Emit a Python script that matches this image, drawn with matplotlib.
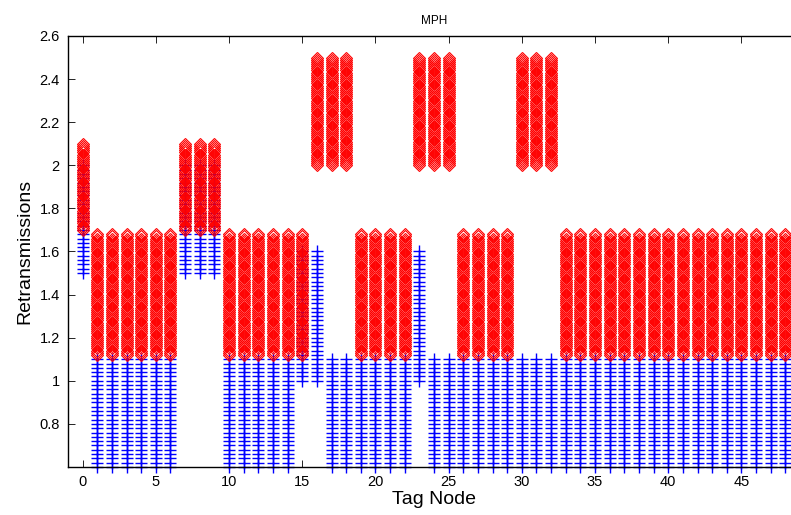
import matplotlib
matplotlib.use("Agg")
import matplotlib.pyplot as plt

plt.rcParams['font.family'] = ['Liberation Sans', 'DejaVu Sans']

# tag nodes 0..48
nodes = list(range(49))

# which band of retransmission values each node falls into
blue_band = ['high' if n in (0, 7, 8, 9) else 'mid' if n in (15, 16, 23) else 'low'
             for n in nodes]
red_band = ['mid' if n in (0, 7, 8, 9)
            else 'high' if n in (16, 17, 18, 23, 24, 25, 30, 31, 32) else 'low'
            for n in nodes]

# values (each column is a dense stack of samples)
blue_low = [0.60, 0.62, 0.64, 0.66, 0.68, 0.70, 0.72, 0.74, 0.76, 0.78, 0.80, 0.82, 0.84,
            0.86, 0.88, 0.90, 0.92, 0.94, 0.96, 0.98, 1.00, 1.02, 1.04, 1.06, 1.08, 1.10]
blue_mid = [1.00, 1.02, 1.04, 1.06, 1.08, 1.10, 1.12, 1.14, 1.16, 1.18, 1.20, 1.22, 1.24,
            1.26, 1.28, 1.30, 1.32, 1.34, 1.36, 1.38, 1.40, 1.42, 1.44, 1.46, 1.48, 1.50,
            1.52, 1.54, 1.56, 1.58, 1.60]
blue_high = [1.50, 1.52, 1.54, 1.56, 1.58, 1.60, 1.62, 1.64, 1.66, 1.68, 1.70, 1.72, 1.74,
             1.76, 1.78, 1.80, 1.82, 1.84, 1.86, 1.88, 1.90, 1.92, 1.94, 1.96, 1.98, 2.00]
red_low = [1.12, 1.13, 1.14, 1.15, 1.16, 1.17, 1.18, 1.19, 1.20, 1.21, 1.22, 1.23, 1.24,
           1.25, 1.26, 1.27, 1.28, 1.29, 1.30, 1.31, 1.32, 1.33, 1.34, 1.35, 1.36, 1.37,
           1.38, 1.39, 1.40, 1.41, 1.42, 1.43, 1.44, 1.45, 1.46, 1.47, 1.48, 1.49, 1.50,
           1.51, 1.52, 1.53, 1.54, 1.55, 1.56, 1.57, 1.58, 1.59, 1.60, 1.61, 1.62, 1.63,
           1.64, 1.65, 1.66, 1.67, 1.68]
red_mid = [1.70, 1.71, 1.72, 1.73, 1.74, 1.75, 1.76, 1.77, 1.78, 1.79, 1.80, 1.81, 1.82,
           1.83, 1.84, 1.85, 1.86, 1.87, 1.88, 1.89, 1.90, 1.91, 1.92, 1.93, 1.94, 1.95,
           1.96, 1.97, 1.98, 1.99, 2.00, 2.01, 2.02, 2.03, 2.04, 2.05, 2.06, 2.07, 2.08,
           2.09, 2.10]
red_high = [2.00, 2.01, 2.02, 2.03, 2.04, 2.05, 2.06, 2.07, 2.08, 2.09, 2.10, 2.11, 2.12,
            2.13, 2.14, 2.15, 2.16, 2.17, 2.18, 2.19, 2.20, 2.21, 2.22, 2.23, 2.24, 2.25,
            2.26, 2.27, 2.28, 2.29, 2.30, 2.31, 2.32, 2.33, 2.34, 2.35, 2.36, 2.37, 2.38,
            2.39, 2.40, 2.41, 2.42, 2.43, 2.44, 2.45, 2.46, 2.47, 2.48, 2.49, 2.50]

blue_vals = {'low': blue_low, 'mid': blue_mid, 'high': blue_high}
red_vals = {'low': red_low, 'mid': red_mid, 'high': red_high}

bx, by, rx, ry = [], [], [], []
for n in nodes:
    v = blue_vals[blue_band[n]]
    bx += [n] * len(v)
    by += v
    v = red_vals[red_band[n]]
    rx += [n] * len(v)
    ry += v

fig = plt.figure(figsize=(7.91, 5.15), dpi=100)
ax = fig.add_axes([68 / 791, 48 / 515, 732 / 791, 431 / 515])

ax.plot(bx, by, '+', color='#0000ff', markersize=8, mew=1.0, clip_on=False)
ax.plot(rx, ry, 'D', mfc='none', mec='#ff0000', markersize=6, mew=0.8, clip_on=False)

ax.set_xlim(-1, 49)
ax.set_ylim(0.6, 2.6)
ax.set_xticks([0, 5, 10, 15, 20, 25, 30, 35, 40, 45])
ax.set_yticks([0.8, 1.0, 1.2, 1.4, 1.6, 1.8, 2.0, 2.2, 2.4, 2.6])
ax.set_yticklabels(['0.8', '1', '1.2', '1.4', '1.6', '1.8', '2', '2.2', '2.4', '2.6'])
ax.tick_params(direction='in', length=5, width=0.6, labelsize=10.5,
               top=True, right=True, pad=6)
for s in ax.spines.values():
    s.set_linewidth(1.0)

ax.set_xlabel('Tag Node', fontsize=14, labelpad=1)
ax.set_ylabel('Retransmissions', fontsize=14, labelpad=4)
ax.set_title('MPH', fontsize=8.5, pad=9)

fig.savefig('out.png', dpi=100)
